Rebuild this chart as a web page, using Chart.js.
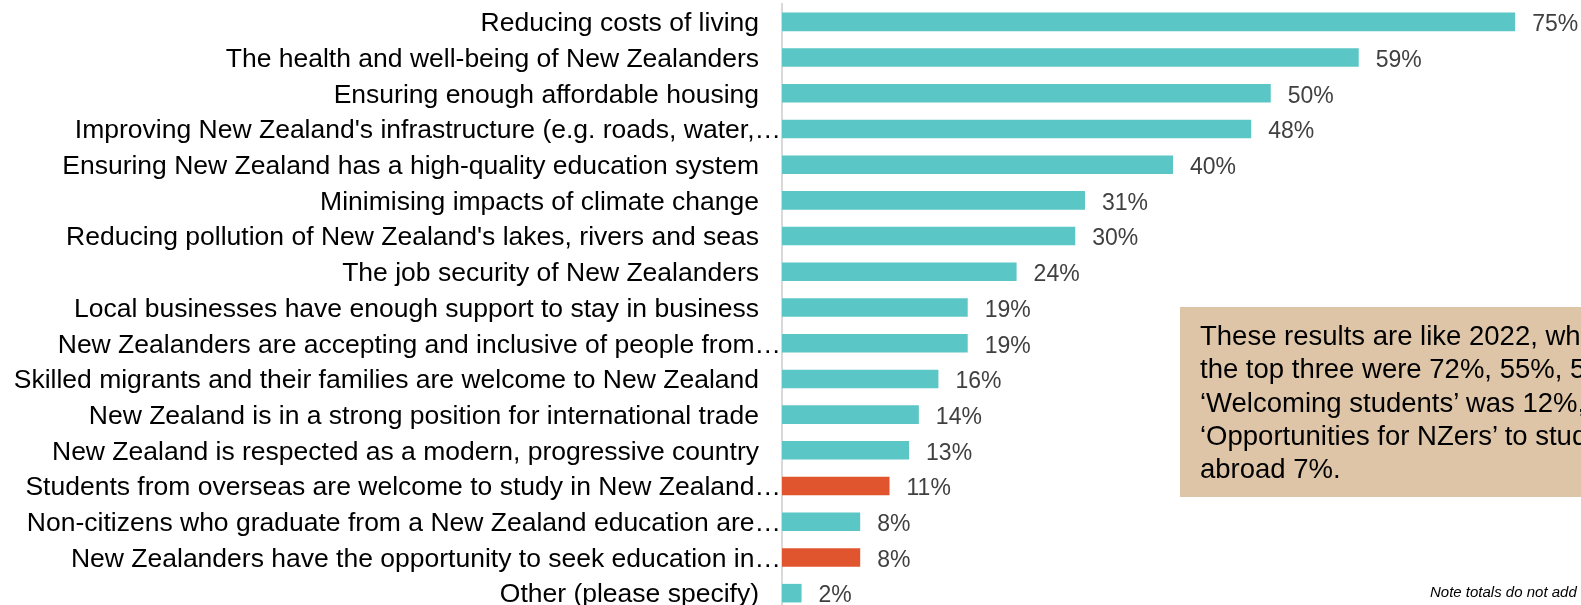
<!DOCTYPE html>
<html>
<head>
<meta charset="utf-8">
<script src="https://cdn.jsdelivr.net/npm/chart.js@4"></script>
<style>
  body { margin: 0; overflow: hidden; background: #fff; font-family: "Liberation Sans", Arial, sans-serif; }
  #wrap { position: absolute; left: 0; top: 0; width: 1581px; height: 615px; }
  #note-box {
    position: absolute; left: 1180px; top: 307px; width: 420px; height: 190px;
    background: #dec5a8; box-sizing: border-box; padding: 12px 0 0 20px;
    font-size: 27.5px; line-height: 33.3px; color: #000; white-space: nowrap;
  }
  #footnote {
    position: absolute; left: 1430px; top: 583px; font-size: 15px; font-style: italic;
    color: #000; white-space: nowrap;
  }
</style>
</head>
<body>
<div id="wrap"><canvas id="priorities-chart"></canvas></div>
<div id="note-box">These results are like 2022, when<br>the top three were 72%, 55%, 51%.<br>‘Welcoming students’ was 12%,<br>‘Opportunities for NZers’ to study<br>abroad 7%.</div>
<div id="footnote">Note totals do not add to 100%</div>
<script>
const priorities = [
  "Reducing costs of living",
  "The health and well-being of New Zealanders",
  "Ensuring enough affordable housing",
  "Improving New Zealand's infrastructure (e.g. roads, water,…",
  "Ensuring New Zealand has a high-quality education system",
  "Minimising impacts of climate change",
  "Reducing pollution of New Zealand's lakes, rivers and seas",
  "The job security of New Zealanders",
  "Local businesses have enough support to stay in business",
  "New Zealanders are accepting and inclusive of people from…",
  "Skilled migrants and their families are welcome to New Zealand",
  "New Zealand is in a strong position for international trade",
  "New Zealand is respected as a modern, progressive country",
  "Students from overseas are welcome to study in New Zealand…",
  "Non-citizens who graduate from a New Zealand education are…",
  "New Zealanders have the opportunity to seek education in…",
  "Other (please specify)",
];
const percentages = [75, 59, 50, 48, 40, 31, 30, 24, 19, 19, 16, 14, 13, 11, 8, 8, 2];
// education items are highlighted
const highlighted = [13, 15];

const teal = "#5bc6c6";
const orange = "#e0542e";

/* ==================================== */
/*     Category labels (y axis text)    */
/* ==================================== */
// truncated labels run right up to the axis line, like the original
const categoryLabels = {
  id: "categoryLabels",
  afterDraw(chart) {
    const ctx = chart.ctx;
    const yScale = chart.scales.y;
    const left = chart.chartArea.left;
    ctx.save();
    ctx.font = '26.5px "Liberation Sans", Arial, sans-serif';
    ctx.fillStyle = "#000";
    ctx.textAlign = "right";
    ctx.textBaseline = "middle";
    priorities.forEach((label, i) => {
      const x = label.endsWith("…") ? left - 1 : left - 23;
      ctx.fillText(label, x, yScale.getPixelForTick(i) + 2);
    });
    ctx.restore();
  },
};

/* ==================================== */
/*          Value labels plugin         */
/* ==================================== */
const valueLabels = {
  id: "valueLabels",
  afterDatasetsDraw(chart) {
    const ctx = chart.ctx;
    const meta = chart.getDatasetMeta(0);
    ctx.save();
    ctx.font = '23px "Liberation Sans", Arial, sans-serif';
    ctx.fillStyle = "#404040";
    ctx.textAlign = "left";
    ctx.textBaseline = "middle";
    meta.data.forEach((bar, i) => {
      ctx.fillText(percentages[i] + "%", bar.x + 17, bar.y + 3);
    });
    ctx.restore();
  },
};

const prioritiesChart = new Chart(document.querySelector("#priorities-chart"), {
  type: "bar",
  data: {
    labels: priorities,
    datasets: [
      {
        data: percentages,
        backgroundColor: percentages.map((v, i) => (highlighted.includes(i) ? orange : teal)),
        barPercentage: 0.52,
        categoryPercentage: 1,
      },
    ],
  },
  options: {
    indexAxis: "y",
    responsive: true,
    maintainAspectRatio: false,
    animation: false,
    layout: { padding: { top: 4, bottom: 4, right: 17, left: 0 } },
    plugins: {
      legend: { display: false },
      tooltip: { enabled: false },
    },
    scales: {
      x: { display: false, min: 0, max: 80 },
      y: {
        grid: { display: false },
        border: { display: true, color: "#d9d9d9", width: 2 },
        ticks: { display: false },
        afterFit(scale) {
          scale.width = 782;
          scale.paddingTop = 0;
          scale.paddingBottom = 0;
        },
      },
    },
  },
  plugins: [valueLabels, categoryLabels],
});
</script>
</body>
</html>
